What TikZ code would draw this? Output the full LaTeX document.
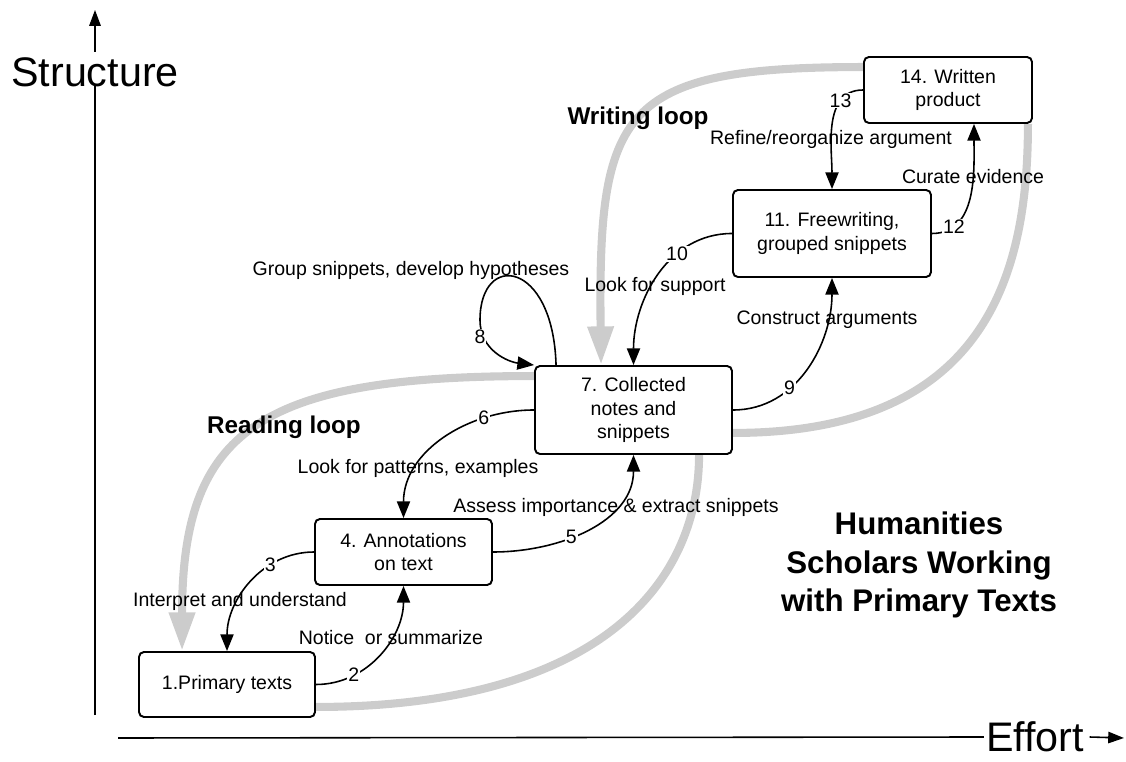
\documentclass[tikz,border=0pt]{standalone}
\usepackage{fontspec}
\setmainfont{Liberation Sans}
\usetikzlibrary{arrows.meta,calc,backgrounds}
\newcommand{\bodysize}{\fontsize{11.1}{13.6}\selectfont}
\tikzset{
  stage/.style={draw,line width=1.1pt,rounded corners=2.8pt,fill=white,align=center,inner sep=2pt},
  flow/.style={line width=0.9pt,-{Triangle[length=9.5pt,width=7.5pt]}},
  loopline/.style={line width=4.6pt,draw=black!20},
  looptip/.style={-{Triangle[length=22pt,width=14pt]}},
  axistip/.style={line width=0.9pt,-{Triangle[length=9pt,width=6.5pt]}},
  num/.style={fill=white,inner sep=0.6pt},
  lbl/.style={inner sep=0pt},
  bigword/.style={font=\fontsize{23.5}{28}\selectfont,inner sep=1pt},
  loopname/.style={font=\bfseries\fontsize{13.8}{16}\selectfont}
}
\begin{document}
\begin{tikzpicture}[x=0.02cm,y=0.02cm,font=\bodysize]
   \useasboundingbox (0,0) rectangle (1126,761);
   % axes
   \coordinate (ybot) at (95,46);
   \coordinate (ytop) at (95,751);
   \node[bigword] (ylab) at (95,689) {Structure};
   \draw[line width=0.9pt] (ybot) -- (ylab.base);
   \draw[axistip] ([yshift=2pt]ylab.north) -- (ytop);
   \coordinate (xleft) at (118,23);
   \coordinate (xright) at (1124,23);
   \node[bigword] (xlab) at (1035,24) {Effort};
   \draw[line width=0.9pt] (xleft) -- (xlab.west);
   \draw[axistip] ([xshift=2pt]xlab.east) -- (xright);
   % stages
   \node[stage,minimum width=3.52cm,minimum height=1.3cm] (b1) at (227,76.5) {1.Primary texts};
   \node[stage,minimum width=3.54cm,minimum height=1.32cm] (b4) at (403.5,209) {4. Annotations\\on text};
   \node[stage,minimum width=3.94cm,minimum height=1.76cm] (b7) at (633.5,351) {7. Collected\\notes and\\snippets};
   \node[stage,minimum width=3.96cm,minimum height=1.74cm] (b11) at (832,527.5) {11. Freewriting,\\grouped snippets};
   \node[stage,minimum width=3.36cm,minimum height=1.32cm] (b14) at (948,671) {14. Written\\product};
   % the two loops
   \begin{pgfonlayer}{background}
   \draw[loopline,looptip] ($(b7.north west)+(0,-11)$) .. controls +(-275,0) and +(0,221) .. ($(b1.north west)+(44,0)$);
   \draw[loopline] ($(b1.south east)+(0,11)$) .. controls +(285,0) and +(0,-127) .. ($(b7.south west)+(165,0)$);
   \draw[loopline,looptip] ($(b14.north west)+(0,-11)$) .. controls +(-244,0) and +(-3,255) .. ($(b7.north west)+(67,0)$);
   \draw[loopline] ($(b7.south east)+(0,22)$) .. controls +(248,0) and +(0,-158) .. ($(b14.south east)+(-5,0)$);
   \end{pgfonlayer}
   \node[loopname] (rloop) at (284,334) {Reading loop};
   \node[loopname] (wloop) at (638,643) {Writing loop};
   % steps
   \draw[flow] (b1.east) to[out=0,in=-90] node[num,pos=0.27] (n2) {2} (b4.south);
   \draw[flow] (b4.west) to[out=180,in=90] node[num,pos=0.32] (n3) {3} (b1.north);
   \draw[flow] (b4.east) to[out=0,in=-90] node[num,pos=0.4] (n5) {5} (b7.south);
   \draw[flow] (b7.west) to[out=180,in=90] node[num,pos=0.26] (n6) {6} (b4.north);
   \coordinate (lp) at (480,441);
   \draw[flow] ($(b7.north west)+(22,0)$) .. controls +(-3,105) and +(0,69) .. (lp) .. controls +(0,-31) and +(-25,3) .. (b7.north west);
   \node[num] (n8) at (480,424) {8};
   \draw[flow] (b7.east) to[out=0,in=-90] node[num,pos=0.35] (n9) {9} (b11.south);
   \draw[flow] (b11.west) to[out=180,in=90] node[num,pos=0.34] (n10) {10} (b7.north);
   \draw[flow] (b11.east) to[out=0,in=-90] node[num,pos=0.2] (n12) {12} ($(b14.south)+(26,0)$);
   \draw[flow] (b14.west) to[out=180,in=90] node[num,pos=0.26] (n13) {13} (b11.north);
   \node[lbl] (t2) at (391,123) {Notice\ \ or summarize};
   \node[lbl] (t3) at (240,160) {Interpret and understand};
   \node[lbl] (t5) at (616,254) {Assess importance \& extract snippets};
   \node[lbl] (t6) at (418,293) {Look for patterns, examples};
   \node[lbl] (t8) at (411,491) {Group snippets, develop hypotheses};
   \node[lbl] (t9) at (827,441) {Construct arguments};
   \node[lbl] (t10) at (655,475) {Look for support};
   \node[lbl] (t12) at (973,584) {Curate evidence};
   \node[lbl] (t13) at (831,622) {Refine/reorganize argument};
   \node[align=center,font=\bfseries\fontsize{17.8}{22}\selectfont] (title) at (919,196) {Humanities\\Scholars Working\\with Primary Texts};
\end{tikzpicture}
\end{document}
